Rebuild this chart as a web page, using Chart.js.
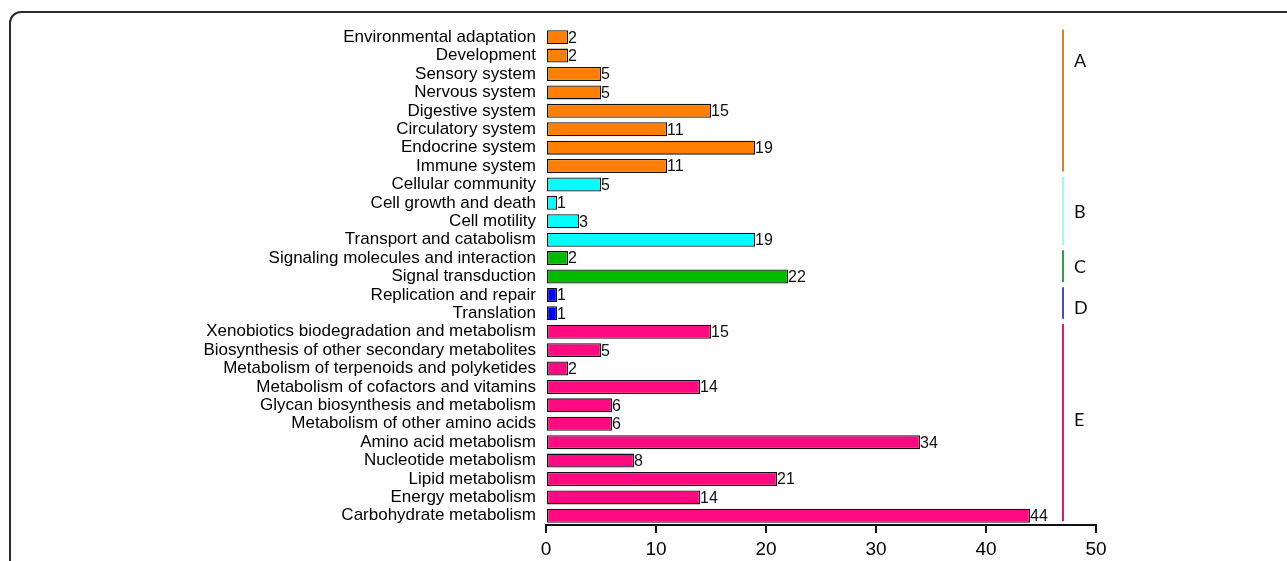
<!DOCTYPE html>
<html>
<head>
<meta charset="utf-8">
<title>KEGG pathway classification</title>
<script src="https://cdn.jsdelivr.net/npm/chart.js@4.4.1/dist/chart.umd.min.js"></script>
<style>
  html, body { margin: 0; padding: 0; background: #fff; overflow: hidden; }
  #wrap { position: relative; width: 1287px; height: 561px; }
</style>
</head>
<body>
<div id="wrap"><canvas id="keggChart" width="1287" height="561"></canvas></div>
<script>
// pathway names, top to bottom
const categories = [
  'Environmental adaptation', 'Development', 'Sensory system', 'Nervous system',
  'Digestive system', 'Circulatory system', 'Endocrine system', 'Immune system',
  'Cellular community', 'Cell growth and death', 'Cell motility', 'Transport and catabolism',
  'Signaling molecules and interaction', 'Signal transduction',
  'Replication and repair', 'Translation',
  'Xenobiotics biodegradation and metabolism', 'Biosynthesis of other secondary metabolites',
  'Metabolism of terpenoids and polyketides', 'Metabolism of cofactors and vitamins',
  'Glycan biosynthesis and metabolism', 'Metabolism of other amino acids',
  'Amino acid metabolism', 'Nucleotide metabolism', 'Lipid metabolism',
  'Energy metabolism', 'Carbohydrate metabolism'
];

// number of genes in each pathway
const geneCounts = [
  2, 2, 5, 5, 15, 11, 19, 11,
  5, 1, 3, 19,
  2, 22,
  1, 1,
  15, 5, 2, 14, 6, 6, 34, 8, 21, 14, 44
];

// pathway groups (A-E) and how many rows each covers
const groupNames = ['A', 'B', 'C', 'D', 'E'];
const groupSizes = [8, 4, 2, 2, 11];

const xTicks = [0, 10, 20, 30, 40, 50];

const barColors = ['#ff8000', '#00ffff', '#00bb00', '#0000ff', '#ff0a80'];
const lineColors = ['#d9822b', '#a6f5f5', '#2f9e4f', '#3f4fb5', '#d81b78'];
// where each group letter sits, in row units
const groupLabelRow = [1.3, 9.5, 12.5, 14.7, 20.8];

// build group index per row
const rowGroup = [];
groupSizes.forEach((n, g) => { for (let i = 0; i < n; i++) rowGroup.push(g); });

// rounded frame behind everything
const framePlugin = {
  id: 'frame',
  beforeDraw(chart) {
    const ctx = chart.ctx;
    const x = 10, y = 12, r = 11;
    ctx.save();
    ctx.strokeStyle = '#2b2b2b';
    ctx.lineWidth = 2;
    ctx.beginPath();
    ctx.moveTo(x, 600);
    ctx.lineTo(x, y + r);
    ctx.arcTo(x, y, x + r, y, r);
    ctx.lineTo(1300, y);
    ctx.stroke();
    ctx.restore();
  }
};

// count labels at the end of each bar
const valueLabels = {
  id: 'valueLabels',
  afterDatasetsDraw(chart) {
    const ctx = chart.ctx;
    const meta = chart.getDatasetMeta(0);
    ctx.save();
    ctx.font = '16px "Liberation Sans", Arial, sans-serif';
    ctx.fillStyle = '#111';
    ctx.textAlign = 'left';
    ctx.textBaseline = 'middle';
    meta.data.forEach((bar, i) => {
      ctx.fillText(String(geneCounts[i]), bar.x, bar.y + 1);
    });
    ctx.restore();
  }
};

// coloured brackets with the group letters on the right
const groupBrackets = {
  id: 'groupBrackets',
  afterDraw(chart) {
    const ctx = chart.ctx;
    const yScale = chart.scales.y;
    const step = yScale.getPixelForValue(1) - yScale.getPixelForValue(0);
    const lineX = 1063;
    let start = 0;
    ctx.save();
    groupSizes.forEach((n, g) => {
      const end = start + n - 1;
      const y0 = yScale.getPixelForValue(start) - step * 0.42;
      const y1 = yScale.getPixelForValue(end) + step * 0.3;
      ctx.strokeStyle = lineColors[g];
      ctx.lineWidth = 2;
      ctx.beginPath();
      ctx.moveTo(lineX, y0);
      ctx.lineTo(lineX, y1);
      ctx.stroke();

      const ly = yScale.getPixelForValue(0) + step * groupLabelRow[g];
      ctx.font = '18px Lato, "Open Sans", sans-serif';
      ctx.fillStyle = '#111';
      ctx.textAlign = 'left';
      ctx.textBaseline = 'middle';
      ctx.fillText(groupNames[g], lineX + 11, ly);
      start = end + 1;
    });
    ctx.restore();
  }
};

const ctx = document.getElementById('keggChart').getContext('2d');
const chart = new Chart(ctx, {
  type: 'bar',
  data: {
    labels: categories,
    datasets: [{
      data: geneCounts,
      backgroundColor: rowGroup.map(g => barColors[g]),
      borderColor: '#111',
      borderWidth: 1.3,
      borderSkipped: false,
      barPercentage: 0.76,
      categoryPercentage: 1.0
    }]
  },
  options: {
    indexAxis: 'y',
    responsive: false,
    animation: false,
    events: [],
    layout: { padding: { top: 28, right: 191, bottom: 0, left: 0 } },
    plugins: {
      legend: { display: false },
      tooltip: { enabled: false }
    },
    scales: {
      x: {
        type: 'linear',
        min: 0,
        max: 50,
        afterFit(scale) { scale.height = 561 - 28 - 497; },
        afterBuildTicks(scale) { scale.ticks = xTicks.map(v => ({ value: v })); },
        border: { display: true, color: '#111', width: 2 },
        grid: { display: true, drawOnChartArea: false, drawTicks: true, tickLength: 8, color: '#111', lineWidth: 2 },
        ticks: {
          color: '#000',
          padding: 5,
          font: { family: '"Liberation Sans", Arial, sans-serif', size: 19 }
        }
      },
      y: {
        type: 'category',
        afterFit(scale) { scale.width = 546; },
        border: { display: false },
        grid: { display: false, drawTicks: false },
        ticks: {
          color: '#000',
          padding: 10,
          autoSkip: false,
          font: { family: '"Liberation Sans", Arial, sans-serif', size: 17 }
        }
      }
    }
  },
  plugins: [framePlugin, valueLabels, groupBrackets]
});
</script>
</body>
</html>
